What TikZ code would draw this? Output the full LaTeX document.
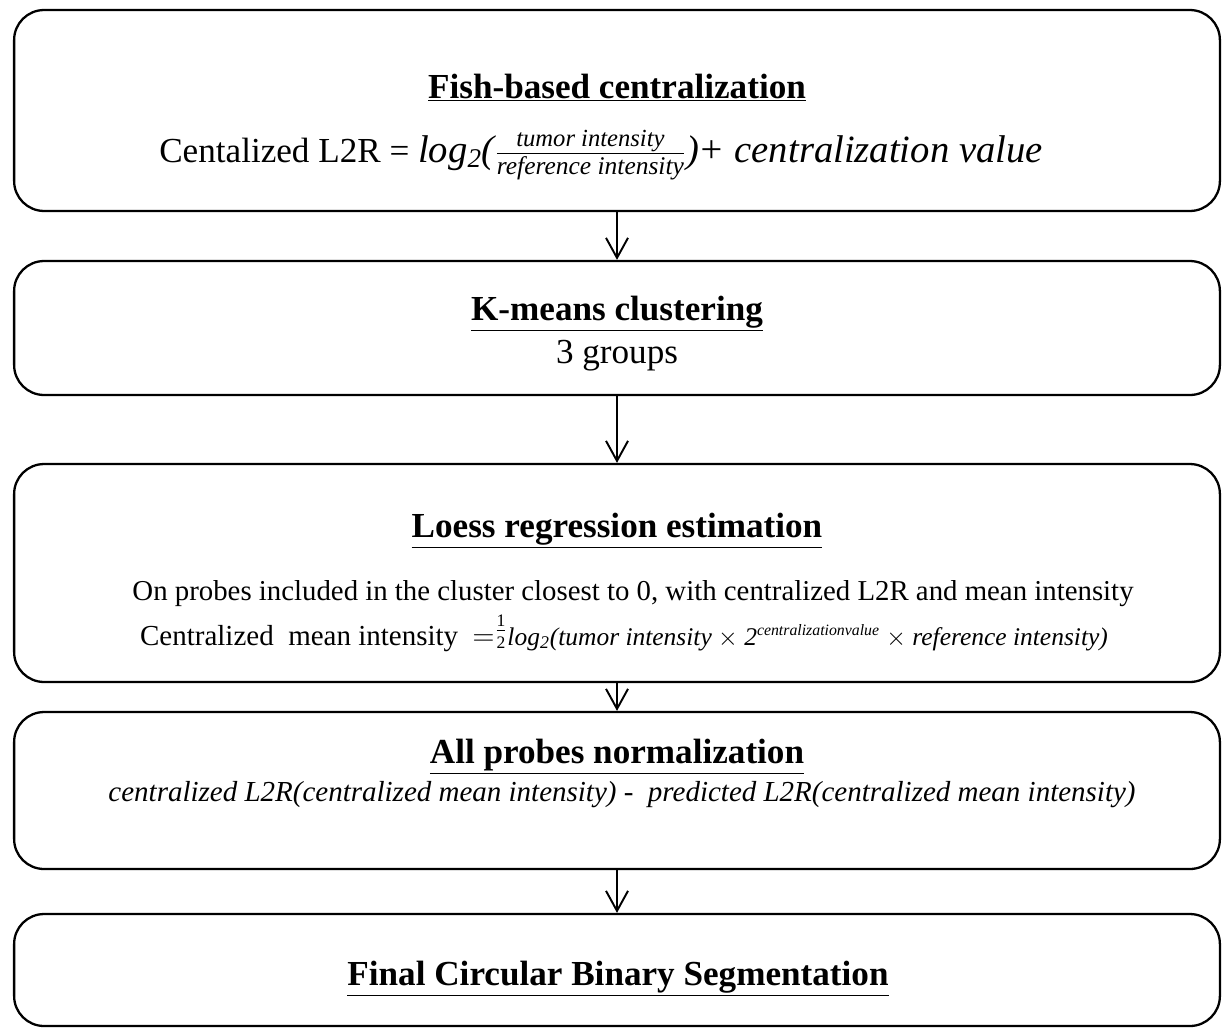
\documentclass[tikz,border=0pt]{standalone}
\usepackage{fontspec}
\setmainfont{Liberation Serif}
\usetikzlibrary{positioning,arrows.meta}

\begin{document}
\begin{tikzpicture}[x=0.02cm, y=-0.02cm,
    box/.style={draw, line width=1.3pt, rounded corners=0.6cm, minimum width=24.12cm, inner sep=0},
    ttl/.style={font=\fontsize{20}{24}\selectfont\bfseries, anchor=base, inner sep=0},
    txt/.style={font=\fontsize{20}{24}\selectfont, anchor=base, inner sep=0},
    flow/.style={-{Straight Barb[length=4mm,width=4.4mm]}, line width=1.1pt}]
  \useasboundingbox (0,0) rectangle (1222,1028);
  % the five steps
  \node[box, minimum height=4.02cm] (fish) at (617,110.5) {};
  \node[box, minimum height=2.68cm] (kmeans) at (617,328) {};
  \node[box, minimum height=4.36cm] (loess) at (617,573) {};
  \node[box, minimum height=3.14cm] (norm) at (617,790.5) {};
  \node[box, minimum height=2.24cm] (cbs) at (617,970) {};
  % texts
  \node[ttl] (fishT) at (617,98) {\underline{Fish-based centralization}};
  \node[txt] (fishF) at (601,162) {Centalized L2R = \fontsize{22}{24}\selectfont\itshape log\textsubscript{2}($\frac{\mbox{\fontsize{14}{15}\selectfont\itshape tumor intensity}}{\mbox{\fontsize{14.5}{15}\selectfont\itshape reference intensity}}$)+ centralization value};
  \node[ttl] (kmeansT) at (617,320) {\underline{K-means clustering}};
  \node[txt] (kmeansS) at (617,363) {3 groups};
  \node[ttl] (loessT) at (617,537) {\underline{Loess regression estimation}};
  \node[txt, font=\fontsize{16.4}{19}\selectfont] (loessS) at (633,600) {On probes included in the cluster closest to 0, with centralized L2R and mean intensity};
  \node[txt, font=\fontsize{16.5}{19}\selectfont] (loessF) at (624,645) {Centralized\ \ mean intensity \ $=$\raisebox{0.5ex}{$\frac{\mbox{\fontsize{10}{10}\selectfont 1}}{\mbox{\fontsize{10}{10}\selectfont 2}}$}\fontsize{14.5}{16}\selectfont\itshape log\textsubscript{2}(tumor intensity $\times$ 2\textsuperscript{\fontsize{9}{9}\selectfont centralizationvalue} $\times$ reference intensity)};
  \node[ttl] (normT) at (617,763) {\underline{All probes normalization}};
  \node[txt, font=\fontsize{16.5}{19}\selectfont\itshape] (normF) at (622,801) {centralized L2R(centralized mean intensity) -\ \ predicted L2R(centralized mean intensity)};
  \node[ttl] (cbsT) at (618,985) {\underline{Final Circular Binary Segmentation}};
  % connectors
  \draw[flow] (fish) -- (kmeans);
  \draw[flow] (kmeans) -- (loess);
  \draw[flow] (loess) -- (norm);
  \draw[flow] (norm) -- (cbs);
\end{tikzpicture}
\end{document}
